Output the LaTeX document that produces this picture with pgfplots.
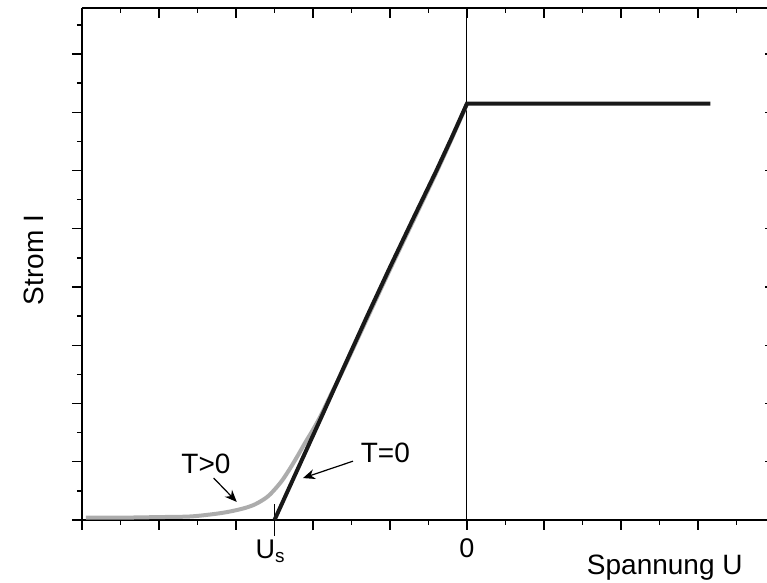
\documentclass[border=0pt]{standalone}
\usepackage{pgfplots}
\pgfplotsset{compat=1.18}
\usepackage{fontspec}
\setmainfont{Liberation Sans}
\usetikzlibrary{arrows.meta}
\definecolor{warmgray}{RGB}{172,172,172}

\pgfplotstableread{
U I
-4.95 0.04
-4.5 0.04
-4.0 0.05
-3.6 0.06
-3.3 0.10
-3.1 0.14
-2.9 0.20
-2.75 0.27
-2.6 0.39
-2.5 0.52
-2.4 0.68
-2.3 0.88
-2.2 1.10
-2.1 1.33
-2.0 1.55
-1.9 1.79
-1.75 2.20
-1.6 2.60
-1.3 3.45
-1.0 4.30
-0.7 5.13
-0.4 5.96
-0.2 6.54
0 7.14
}\warmcurve

\pgfplotstableread{
U I
-2.5 0
-2.2 0.87
-1.9 1.74
-1.6 2.62
-1.3 3.49
-1.0 4.34
-0.7 5.17
-0.4 5.99
-0.2 6.56
0 7.15
3.16 7.15
}\coldcurve

\begin{document}
\begin{tikzpicture}
\pgfplotsset{
  common/.style={
    width=346.5pt, height=256pt, scale only axis,
    xmin=-5, xmax=4, ymin=0, ymax=8.79,
    xtick={-5,...,4}, minor xtick={-4.5,-3.5,...,3.5},
    ytick={0,...,8}, minor ytick={0.5,1.5,...,8.5},
    major tick length=5pt, minor tick length=2.5pt,
    every tick/.style={black, line width=0.7pt},
    axis line style={line width=1pt, -},
    every outer x axis line/.append style={-},
    every outer y axis line/.append style={-},
    /pgf/number format/assume math mode=true,
    tick label style={font=\fontsize{13.5}{16}\selectfont},
    label style={font=\fontsize{14}{17}\selectfont},
  }
}
\begin{axis}[common, axis x line*=top, axis y line*=right, tick align=inside,
  xticklabels={}, yticklabels={}]
\end{axis}
\begin{axis}[common, axis x line*=bottom, axis y line*=left, tick align=outside,
  xticklabels={,,,,,0,,,,}, yticklabels={},
  xticklabel style={yshift=-1pt},
  extra x ticks={-2.5}, extra x tick labels={U\textsubscript{s}},
  extra x tick style={major tick length=16pt, tick align=center,
    xticklabel style={yshift=2.5pt, xshift=-2pt}},
  xlabel={Spannung U},
  xlabel style={at={(rel axis cs:0.841,0)}, anchor=center, yshift=-24pt},
  ylabel={Strom I},
  ylabel style={at={(rel axis cs:0,0.508)}, anchor=center, yshift=24pt},
  clip=false,
]
\coordinate (sw) at (rel axis cs:0,0);
\addplot[black, line width=0.5pt] coordinates {(0,0) (0,8.79)};
\addplot[warmgray, line width=2pt, smooth, tension=0.5] table {\warmcurve};
\addplot[black!90, line width=2pt, line join=miter] table {\coldcurve};
\node[font=\fontsize{14}{17}\selectfont] at (axis cs:-3.39,0.96) {T>0};
\draw[line width=0.6pt, -{Stealth[length=6pt, width=5pt]}] (axis cs:-3.29,0.72) -- (axis cs:-2.99,0.31);
\node[font=\fontsize{14}{17}\selectfont] at (axis cs:-1.06,1.15) {T=0};
\draw[line width=0.6pt, -{Stealth[length=6pt, width=5pt]}] (axis cs:-1.48,1.01) -- (axis cs:-2.13,0.72);
\end{axis}
\pgfresetboundingbox
\path[use as bounding box] ([xshift=-41pt,yshift=-31.5pt]sw) rectangle ([xshift=342.5pt,yshift=260pt]sw);
\end{tikzpicture}
\end{document}
